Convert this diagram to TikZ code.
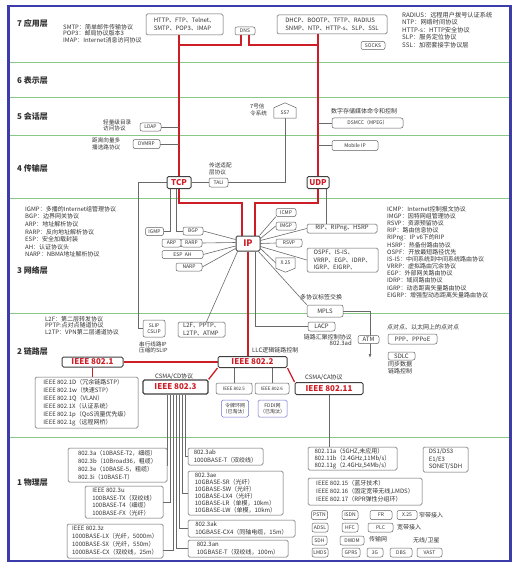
\documentclass[tikz,border=0pt]{standalone}
\usepackage{fontspec}
\setmainfont{Noto Sans CJK SC}
\usetikzlibrary{calc,arrows.meta}
\definecolor{redc}{RGB}{205,30,40}
\definecolor{grn}{RGB}{135,200,135}
\definecolor{frameblue}{RGB}{60,60,170}
\definecolor{lgray}{RGB}{105,105,105}
\definecolor{bgray}{RGB}{95,95,95}
\definecolor{tblue}{RGB}{110,110,210}
\definecolor{txt}{RGB}{50,50,50}
\pgfdeclarelayer{bgg}\pgfdeclarelayer{bg}\pgfsetlayers{bgg,bg,main}
\newcommand\mybox[6][pbox]{\node[#1,minimum width=#4pt,minimum height=#5pt] (#2) at (#3) {#6};}
\tikzset{
 pbox/.style={draw=bgray, line width=0.5pt, rounded corners=1.5pt, fill=white, font=\fontsize{6}{7.5}\selectfont, inner sep=0.5pt, align=left, text=txt},
 sbox/.style={pbox, font=\fontsize{5}{6}\selectfont, align=center, rounded corners=2pt},
 bluebox/.style={pbox, draw=tblue, font=\fontsize{5}{6}\selectfont, align=center},
 keybox/.style={draw=black!75, line width=1pt, rounded corners=1.5pt, fill=white, text=redc, font=\fontsize{8}{9}\selectfont\bfseries, inner sep=0.5pt},
 lbl/.style={font=\fontsize{6}{7.2}\selectfont, align=left, inner sep=0pt, text=txt, anchor=north west},
 layer/.style={font=\fontsize{8}{9}\selectfont\bfseries, anchor=west, inner sep=0, text=txt},
 gl/.style={draw=lgray, line width=0.6pt},
 rl/.style={draw=redc, line width=1.3pt},
 sep/.style={draw=grn, line width=0.8pt},
}
\begin{document}
\begin{tikzpicture}[x=1pt,y=-1pt]
\useasboundingbox (0,0) rectangle (514,567);
% layer names
\node[layer] (l7) at (17,23.5) {7 应用层};
\node[layer] (l6) at (17,80.5) {6 表示层};
\node[layer] (l5) at (17,116) {5 会话层};
\node[layer] (l4) at (17,168.5) {4 传输层};
\node[layer] (l3) at (17,270.5) {3 网络层};
\node[layer] (l2) at (17,351.5) {2 链路层};
\node[layer] (l1) at (17,482.5) {1 物理层};
% ---- layer 7
\mybox{http}{184.5,24.5}{77}{21}{HTTP、FTP、Telnet、\\SMTP、POP3、IMAP}
\mybox[sbox]{dns}{245,31}{20}{8}{DNS}
\mybox{dhcp}{332,24.5}{110}{19}{DHCP、BOOTP、TFTP、RADIUS\\SNMP、NTP、HTTP-s、SLP、SSL}
\mybox[sbox]{socks}{373,45.5}{24}{8}{SOCKS}
\node[lbl, font=\fontsize{6}{6.6}\selectfont] (t7a) at (63,24) {SMTP：简单邮件传输协议\\POP3：邮局协议版本3\\IMAP：Internet消息访问协议};
\node[lbl, font=\fontsize{6.2}{7.5}\selectfont] (t7b) at (402,12) {RADIUS：远程用户拨号认证系统\\NTP：网络时间协议\\HTTP-s：HTTP安全协议\\SLP：服务定位协议\\SSL：加密套接字协议层};
% ---- layer 5 / 4
\mybox[sbox]{ldap}{150.5,127}{21}{8}{LDAP}
\node[lbl, font=\fontsize{5.6}{6.2}\selectfont] (tldap) at (103,119.5) {轻量级目录\\访问协议};
\node[inner sep=0, minimum width=22pt, minimum height=10pt, font=\fontsize{5}{6}\selectfont, text=txt] (ss7) at (285,113) {SS7};
\node[lbl, font=\fontsize{5.6}{6.2}\selectfont] (tss7) at (250,104) {7号信\\令系统};
\node[lbl] (tdsm) at (331,108) {数字存储媒体命令和控制};
\mybox[sbox]{dsmcc}{367.5,123}{71}{10}{DSMCC（MPEG）}
\mybox[sbox]{dvmrp}{146.5,144}{27}{9}{DVMRP}
\node[lbl, font=\fontsize{5.6}{6.6}\selectfont] (tdvm) at (92,137.5) {距离向量多\\播选路协议};
\mybox[sbox]{mobile}{355,145.5}{46}{10}{Mobile IP}
\mybox[keybox]{tcp}{179,182.5}{24}{12}{TCP}
\mybox[keybox]{udp}{318,182.5}{22}{12}{UDP}
\mybox[sbox]{tali}{218.5,182.5}{19}{9}{TALI}
\node[lbl, font=\fontsize{5.6}{6.6}\selectfont] (ttali) at (209,163) {传送适配\\层协议};
% ---- layer 3
\node[lbl, font=\fontsize{6}{7.6}\selectfont] (t3a) at (25,206) {IGMP：多播的Internet组管理协议\\BGP：边界网关协议\\ARP：地址解析协议\\RARP：反向地址解析协议\\ESP：安全加载封装\\AH：认证协议头\\NARP：NBMA地址解析协议};
\node[lbl, font=\fontsize{6}{7.17}\selectfont] (t3b) at (387,206) {ICMP：Internet控制报文协议\\IMGP：因特网组管理协议\\RSVP：资源预留协议\\RIP：路由信息协议\\RIPng：IP v6下的RIP\\HSRP：热备份路由协议\\OSPF：开放最短路径优先\\IS-IS：中间系统到中间系统路由协议\\VRRP：虚拟路由冗余协议\\EGP：外部网关路由协议\\IDRP：域间路由协议\\IGRP：动态距离矢量路由协议\\EIGRP：增强型动态距离矢量路由协议};
\mybox[keybox,font=\fontsize{9}{10}\selectfont\bfseries]{ip}{248,243.5}{24}{15}{IP}
\mybox[sbox]{igmp}{154.5,231.5}{18}{8}{IGMP}
\mybox[sbox]{bgp}{193,231}{20}{8}{BGP}
\mybox[sbox]{arp}{171.5,243}{19}{8}{ARP}
\mybox[sbox]{rarp}{191.5,243}{21}{8}{RARP}
\mybox[sbox]{espah}{182.5,254.5}{41}{8}{ESP\ \ AH}
\mybox[sbox]{narp}{189,267}{26}{8}{NARP}
\mybox[sbox]{icmp}{286,212.5}{20}{8}{ICMP}
\mybox[sbox]{imgp}{286,226}{20}{8}{IMGP}
\mybox[sbox]{rsvp}{289,243}{26}{8}{RSVP}
\mybox{rip}{342,228.5}{70}{9}{RIP、RIPng、HSRP}
\mybox[pbox,font=\fontsize{6}{7.4}\selectfont]{ospf}{342.5,260}{71}{24}{OSPF、IS-IS、\\VRRP、EGP、IDRP、\\IGRP、EIGRP、}
\node[inner sep=0, minimum width=19pt, minimum height=10pt, font=\fontsize{5}{6}\selectfont, text=txt] (x25) at (285.5,263) {X.25};
\mybox[sbox]{slip}{154,328.5}{22}{17}{SLIP\\CSLIP}
\node[lbl, font=\fontsize{5.6}{6}\selectfont] (tslip) at (139,341.5) {串行线路IP\\压缩的SLIP};
\node[lbl, font=\fontsize{6}{6.6}\selectfont] (t2a) at (45,316) {L2F：第二层转发协议\\PPTP:点对点隧道协议\\L2TP：VPN第二层通道协议};
\mybox{l2f}{201.5,329.5}{47}{15}{L2F、PPTP、\\L2TP、ATMP}
\mybox[sbox,font=\fontsize{6}{7}\selectfont]{mpls}{325,311}{36}{12}{MPLS}
\node[lbl] (tmpls) at (300,294) {多协议标签交换};
\mybox[sbox,font=\fontsize{6}{7}\selectfont]{lacp}{321.5,326.5}{27}{9}{LACP}
\node[lbl, anchor=north east, align=right, font=\fontsize{6}{6.6}\selectfont] (tlacp) at (352,334) {链路汇聚控制协议\\802.3ad};
\mybox[sbox,font=\fontsize{6}{7}\selectfont]{atm}{368.5,339.5}{21}{8}{ATM}
% ---- layer 2
\mybox[keybox]{ieee1}{92.5,362}{61}{10}{IEEE 802.1}
\mybox[pbox,font=\fontsize{6}{8}\selectfont]{list1}{86.5,402.5}{103}{51}{IEEE 802.1D（冗余链路STP）\\IEEE 802.1w（快速STP）\\IEEE 802.1Q（VLAN）\\IEEE 802.1X（认证系统）\\IEEE 802.1p（QoS流量优先级）\\IEEE 802.1g（远程网桥）}
\mybox[keybox]{ieee2}{252.5,362}{69}{11}{IEEE 802.2}
\node[lbl] (tllc) at (252,347) {LLC逻辑链路控制};
\mybox[keybox,line width=1.3pt]{ieee3}{175.5,387}{65}{14}{IEEE 802.3}
\node[lbl] (tcd) at (155,373.5) {CSMA/CD协议};
\mybox[sbox,font=\fontsize{4.6}{5.5}\selectfont]{ieee5}{234,388.5}{36}{11}{IEEE 802.5}
\mybox[sbox,font=\fontsize{4.6}{5.5}\selectfont]{ieee6}{272,388.5}{34}{11}{IEEE 802.6}
\mybox[bluebox]{token}{235,408.5}{27}{17}{令牌环网\\（已淘汰）}
\mybox[bluebox]{fddi}{272.5,408.5}{29}{17}{FDDI网\\（已淘汰）}
\mybox[keybox]{ieee11}{329,388.5}{68}{12}{IEEE 802.11}
\node[lbl] (tca) at (305,374) {CSMA/CA协议};
\node[lbl] (tppp) at (387,324) {点对点、以太网上的点对点};
\mybox[sbox,font=\fontsize{6}{7}\selectfont]{ppp}{412.5,339}{49}{10}{PPP、PPPoE}
\mybox[sbox,font=\fontsize{6}{7}\selectfont]{sdlc}{401.5,356}{27}{8}{SDLC}
\node[lbl, font=\fontsize{6}{6.5}\selectfont] (tsdlc) at (388,361.5) {同步数据\\链路控制};
% ---- layer 1
\mybox[pbox,font=\fontsize{6}{8}\selectfont]{a3a}{117.5,465}{99}{34}{802.3a（10BASE-T2，细缆）\\802.3b（10Broad36，粗缆）\\802.3e（10BASE-5，粗缆）\\802.3i（10BASE-T）}
\mybox[pbox,font=\fontsize{6}{7.7}\selectfont]{a3u}{124,502}{78}{32}{IEEE 802.3u\\100BASE-TX（双绞线）\\100BASE-T4（细缆）\\100BASE-FX（光纤）}
\mybox[pbox,font=\fontsize{6}{8}\selectfont]{a3z}{115,541}{96}{34}{IEEE 802.3z\\1000BASE-LX（光纤，5000m）\\1000BASE-SX（光纤，550m）\\1000BASE-CX（双绞线，25m）}
\mybox{ab}{225.5,456.5}{75}{17}{802.3ab\\1000BASE-T（双绞线）}
\mybox[pbox,font=\fontsize{6}{7.1}\selectfont]{ae}{235.5,493}{95}{44}{802.3ae\\10GBASE-SR（光纤）\\10GBASE-SW（光纤）\\10GBASE-LX4（光纤）\\10GBASE-LR（单模，10km）\\10GBASE-LW（单模，10km）}
\mybox{ak}{241.5,528.5}{107}{17}{802.3ak\\10GBASE-CX4（同轴电缆，15m）}
\mybox{an}{238,548.5}{100}{17}{802.3an\\10GBASE-T（双绞线，100m）}
\mybox[pbox,font=\fontsize{6}{7}\selectfont]{w11}{352.5,458.5}{89}{23}{802.11a（5GHZ,未应用）\\802.11b（2.4GHz,11Mb/s）\\802.11g（2.4GHz,54Mb/s）}
\mybox[pbox,font=\fontsize{6}{8}\selectfont]{w15}{365,491.5}{114}{27}{IEEE 802.15（蓝牙技术）\\IEEE 802.16（固定宽带无线,LMDS）\\IEEE 802.17（RPR弹性分组环）}
\mybox[pbox,font=\fontsize{6}{7.5}\selectfont]{ds}{445.5,459.5}{45}{25}{DS1/DS3\\E1/E3\\SONET/SDH}
\mybox[sbox]{pstn}{319.5,515}{16}{9}{PSTN}
\mybox[sbox]{isdn}{350,515}{16}{9}{ISDN}
\mybox[sbox]{fr}{381,515}{22}{9}{FR}
\mybox[sbox]{xb}{407,515}{20}{9}{X.25}
\node[lbl, anchor=west] (tnb) at (419,515) {窄带接入};
\mybox[sbox]{adsl}{320,527.5}{16}{9}{ADSL}
\mybox[sbox]{hfc}{350,527.5}{16}{9}{HFC}
\mybox[sbox]{plc}{380.5,527.5}{25}{9}{PLC}
\node[lbl, anchor=west] (tbb) at (397,527.5) {宽带接入};
\mybox[sbox]{sdh}{319.5,540.5}{15}{9}{SDH}
\mybox[sbox]{dwdm}{352,540.5}{24}{9}{DWDM}
\node[lbl, anchor=west] (ttn) at (369,539) {传输网};
\node[lbl, anchor=west] (twx) at (413,541) {无线/卫星};
\mybox[sbox]{lmds}{320,552.5}{16}{9}{LMDS}
\mybox[sbox]{gprs}{351,552.5}{18}{9}{GPRS}
\mybox[sbox]{g3}{375,552.5}{16}{9}{3G}
\mybox[sbox]{dbs}{401,552.5}{22}{9}{DBS}
\mybox[sbox]{vast}{429.5,552.5}{25}{9}{VAST}
% ---- background: separators
\begin{pgfonlayer}{bgg}
\foreach \yy in {62,97,135,198,313,437} \draw[sep] (9,\yy) -- (510,\yy);
\end{pgfonlayer}
% ---- connectors
\begin{pgfonlayer}{bg}
\coordinate (dnsl) at (179,45);
\coordinate (dnsr) at (318,45);
\coordinate (ipl) at (242,203);
\coordinate (ipr) at (255,203);
\coordinate (slc) at (138,182.5);
\coordinate (mt) at (370,311);
\coordinate (me) at (370,358);
% red
\draw[rl] (tcp.north) -- (tcp.north |- http.south);
\draw[rl] ([xshift=-4pt]dns.south) |- (dnsl);
\draw[rl] ([xshift=4pt]dns.south) |- (dnsr);
\draw[rl] (udp.north) -- (udp.north |- dhcp.south);
\draw[rl] (tcp.south) |- (ipl) -- (ipl |- ip.north);
\draw[rl] (udp.south) |- (ipr) -- (ipr |- ip.north);
\draw[rl] (ip.south) -- (ip.south |- ieee2.north);
\draw[rl] (ieee1.east) -- (ieee2.west);
\draw[rl] (ieee1.south) -- (ieee1.south |- list1.north);
\draw[rl] (ieee2.south west) -- (ieee3.north east);
\draw[rl] (ieee2.south east) -- (ieee11.north west);
% gray
\draw[gl] (ldap.east) -- (ldap.east -| tcp.north);
\draw[gl] (dvmrp.east) -- (dvmrp.east -| tcp.north);
\draw[gl] (dsmcc.west) -- (dsmcc.west -| udp.north);
\draw[gl] (mobile.west) -- (mobile.west -| udp.north);
\draw[gl] (ss7.south) |- (tali.east);
\draw[gl] (tali.west) -- (tcp.east);
\draw[gl] (tcp.west) -- (slc) |- (slip.west);
\draw[gl] ([xshift=-9pt]tcp.south) |- (igmp.east);
\draw[gl] ([xshift=-3pt]tcp.south) |- (bgp.west);
\draw[gl] ([xshift=8pt]udp.south) -- ([xshift=8pt]udp.south |- rip.north);
\draw[gl] (bgp.east) -- ([yshift=4pt]ip.west);
\draw[gl] (rarp.east) -- ([yshift=1pt]ip.west);
\draw[gl] (espah.east) -- ([yshift=-2.5pt]ip.west);
\draw[gl] (narp.east) -- ([yshift=-5pt]ip.west);
\draw[gl] ([xshift=-1pt]ip.north east) -- (icmp.south west);
\draw[gl] ([yshift=5pt]ip.east) -- (imgp.west);
\draw[gl] ([yshift=3pt]ip.east) -- (rip.west);
\draw[gl] (ip.east) -- (rsvp.west);
\draw[gl] ([yshift=-3pt]ip.east) -- (ospf.west);
\draw[gl] ([yshift=-5pt]ip.east) -- (x25.west);
\draw[gl] ([xshift=7pt]ip.south) |- (lacp.west);
\draw[gl] ([xshift=2pt]ip.south west) -- ([xshift=5pt]l2f.north);
\draw[gl] ([xshift=-2pt]ip.south east) -- (mpls.north west);
\draw[gl,-{Latex[length=4pt,width=3pt]}] (mpls.east) -- (mt) -- (me);
\draw[gl] (ieee5.north) -- (ieee5.north |- ieee2.south);
\draw[gl] (ieee6.north) -- (ieee6.north |- ieee2.south);
\draw[gl] (ieee11.south) -- (ieee11.south |- w11.north);
\draw[gl] (a3a.east) -| ([xshift=-8.5pt]ieee3.south);
\draw[gl] (a3u.east) -| ([xshift=-5.5pt]ieee3.south);
\draw[gl] ([yshift=-9pt]a3z.east) -| ([xshift=-2.5pt]ieee3.south);
\draw[gl] (an.west) -| ([xshift=1pt]ieee3.south);
\draw[gl] (ak.west) -| ([xshift=4pt]ieee3.south);
\draw[gl] (ae.west) -| ([xshift=7pt]ieee3.south);
\draw[gl] (ab.west) -| ([xshift=10pt]ieee3.south);
% house shapes
\filldraw[fill=white, draw=bgray, line width=0.5pt] (ss7.south west) -- (ss7.north west) -- ([yshift=5pt]ss7.north) -- (ss7.north east) -- (ss7.south east) -- cycle;
\filldraw[fill=white, draw=bgray, line width=0.5pt] (x25.north west) -- (x25.north east) -- (x25.south east) -- ([yshift=-4pt]x25.south) -- (x25.south west) -- cycle;
\end{pgfonlayer}
% frame
\draw[frameblue, line width=2.5pt] (8.5,6) rectangle (510.5,561);
\end{tikzpicture}
\end{document}
